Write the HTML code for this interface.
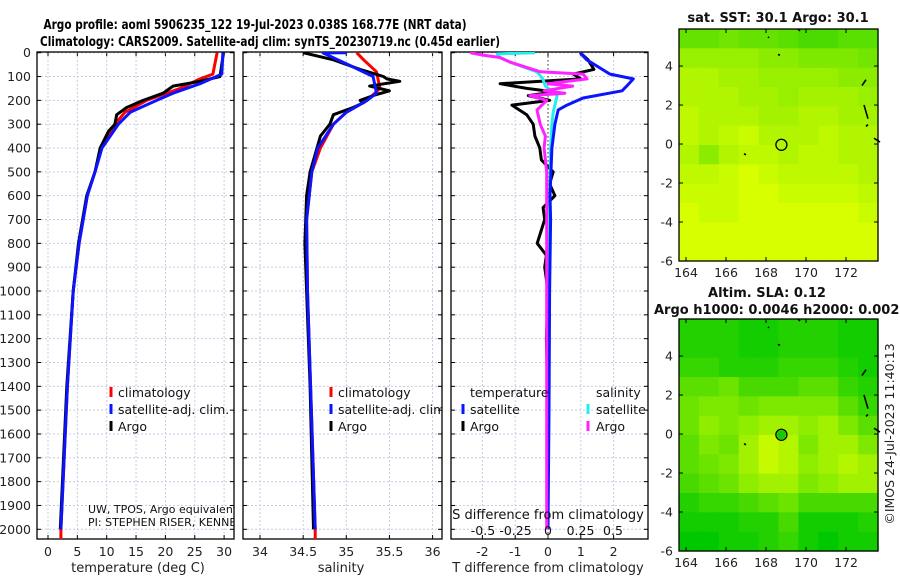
<!DOCTYPE html>
<html><head><meta charset="utf-8"><style>
html,body{margin:0;padding:0;background:#fff;}
svg{display:block;font-family:"DejaVu Sans","Liberation Sans",sans-serif;}
</style></head><body>
<svg id="chart" width="900" height="580" viewBox="0 0 900 580" xmlns="http://www.w3.org/2000/svg">
<text x="255" y="29" font-size="13" font-weight="bold" text-anchor="middle" textLength="423" lengthAdjust="spacingAndGlyphs">Argo profile: aoml 5906235_122 19-Jul-2023 0.038S 168.77E (NRT data)</text>
<text x="270" y="46" font-size="13" font-weight="bold" text-anchor="middle" textLength="460" lengthAdjust="spacingAndGlyphs">Climatology: CARS2009. Satellite-adj clim: synTS_20230719.nc (0.45d earlier)</text>
<g id="g"></g>
</svg>
<script>
// ---- depth axis ----
const depthTicks = [0,100,200,300,400,500,600,700,800,900,1000,1100,1200,1300,1400,1500,1600,1700,1800,1900,2000];
// ---- temperature panel ----
const tempTicks = [0,5,10,15,20,25,30];
const tArgoDepth = [0,100,120,140,170,200,230,260,300,330,400,500,600,800,1000,1400,2000];
const tArgo =      [29.9,29.3,25.9,21.3,19.6,16.2,13.4,11.7,11.4,10.3,8.9,8.0,6.6,5.2,4.3,3.2,2.1];
const tClimDepth = [0,90,110,150,200,250,300,400,500,600,800,1000,1400,2000,2055];
const tClim =      [28.8,28.1,25.9,22.5,16.8,13.1,11.4,9.1,8.0,6.7,5.3,4.3,3.3,2.2,2.2];
const tSatDepth =  [0,90,130,170,200,250,300,400,500,600,800,1000,1400,2000];
const tSat =       [29.8,29.6,25.9,21.3,18.5,14.0,12.0,9.2,8.0,6.7,5.3,4.3,3.3,2.2];
// ---- salinity panel ----
const salTicks = [34,34.5,35,35.5,36];
const sArgoDepth = [0,30,70,100,110,120,140,160,180,200,210,230,260,300,350,400,500,600,800,1000,1400,2000];
const sArgo =      [34.5,34.85,35.16,35.43,35.47,35.62,35.27,35.5,35.31,35.16,35.2,35.08,34.85,34.81,34.7,34.66,34.58,34.54,34.52,34.54,34.58,34.62];
const sClimDepth = [0,30,80,150,200,250,300,400,500,700,1000,2000,2055];
const sClim =      [35.12,35.2,35.35,35.39,35.24,35.0,34.85,34.7,34.6,34.54,34.55,34.64,34.64];
const sSatDepth =  [0,1,60,100,170,200,250,300,400,500,700,1000,2000];
const sSat =       [35.0,34.73,35.08,35.31,35.35,35.24,35.0,34.85,34.67,34.6,34.54,34.55,34.64];
// ---- difference panel ----
const dTTicks = [-2,-1,0,1,2];
const dSTicks = [-0.5,-0.25,0,0.25,0.5];
const dTSatDepth = [0,30,90,110,140,160,190,220,240,300,400,600,700,1000,1500,2000];
const dTSat =      [0.98,1.18,1.89,2.6,2.4,2.26,1.07,0.58,0.31,0.21,0.12,0.06,0.08,0.05,0.03,0.0];
const dTArgoDepth = [0,30,70,90,110,130,150,165,180,200,220,260,300,350,400,450,500,550,600,650,700,800,850,900,1000,1200,1500,2000];
const dTArgo =      [0.98,1.22,1.4,0.77,1.0,-1.46,-0.65,0.2,-0.6,0.05,-1.1,-0.65,-0.45,-0.4,-0.25,-0.2,0.16,0.05,0.21,-0.15,-0.1,-0.33,-0.05,-0.1,0.0,-0.05,0.0,-0.02];
const dSSatDepth = [0,5,20,40,80,110,140,180,250,300,400,700,1000,2000];
const dSSat =      [-0.1,-0.39,-0.37,-0.29,-0.085,-0.04,-0.02,0.07,0.04,0.03,0.02,0.01,0.0,0.0];
const dSArgoDepth = [0,10,20,40,80,90,110,130,140,160,170,180,200,240,300,350,400,500,700,1000,2000];
const dSArgo =      [-0.6,-0.5,-0.37,-0.29,-0.06,0.27,0.3,0.0,0.19,-0.03,0.13,-0.14,-0.01,-0.085,-0.06,-0.02,-0.03,-0.01,-0.01,-0.01,-0.01];
// ---- maps ----
const lonTicks = [164,166,168,170,172];
const latTicks = [4,2,0,-2,-4,-6];
const sstGrid = [
 [29.4,29.4,29.5,29.4,29.4,29.3,29.2,29.2,29.3,29.3],
 [29.8,29.8,29.8,29.8,29.7,29.7,29.6,29.6,29.6,29.5],
 [30.0,30.0,29.9,29.9,29.8,29.8,29.8,29.8,29.7,29.7],
 [30.0,30.0,30.0,29.9,29.9,29.8,29.9,29.9,29.9,29.8],
 [30.1,30.0,30.0,30.0,29.9,29.9,30.0,30.0,29.9,29.9],
 [30.1,30.0,30.1,30.2,30.0,30.0,30.0,30.1,30.0,30.0],
 [30.0,29.7,30.0,30.1,30.1,30.0,30.1,30.1,30.0,30.0],
 [30.1,30.1,30.2,30.3,30.2,30.1,30.1,30.1,30.1,30.0],
 [30.2,30.2,30.2,30.3,30.3,30.2,30.2,30.2,30.2,30.1],
 [30.3,30.2,30.2,30.3,30.3,30.3,30.3,30.3,30.3,30.2],
 [30.4,30.3,30.3,30.3,30.3,30.3,30.3,30.3,30.3,30.3],
 [30.4,30.3,30.3,30.3,30.3,30.3,30.3,30.3,30.3,30.3]];
const slaGrid = [
 [.05,.05,.05,.04,.04,.05,.05,.05,.04,.04],
 [.05,.05,.05,.04,.04,.05,.05,.05,.04,.04],
 [.06,.06,.05,.05,.05,.06,.06,.06,.05,.04],
 [.08,.08,.09,.07,.07,.07,.08,.08,.06,.05],
 [.09,.10,.10,.09,.10,.10,.10,.10,.08,.06],
 [.09,.11,.10,.11,.12,.12,.11,.12,.10,.08],
 [.08,.10,.09,.12,.14,.13,.10,.12,.12,.10],
 [.08,.09,.10,.12,.14,.13,.11,.12,.13,.12],
 [.07,.08,.09,.11,.12,.12,.10,.11,.12,.12],
 [.05,.06,.06,.07,.08,.09,.07,.07,.07,.07],
 [.04,.04,.04,.05,.05,.07,.04,.04,.04,.05],
 [.03,.03,.04,.04,.05,.06,.04,.03,.04,.04]];
const argoLon = 168.77, argoLat = -0.038;

const NS = "http://www.w3.org/2000/svg";
const G = document.getElementById('g');
function mk(tag, attrs, parent, txt){
  const e = document.createElementNS(NS, tag);
  for (const k in attrs) e.setAttribute(k, attrs[k]);
  if (txt !== undefined) e.textContent = txt;
  (parent||G).appendChild(e); return e;
}
const Y0 = 52.7, DS = 0.2383, PT = 52, PB = 539;
const yD = d => Y0 + DS*d;
function panel(name, L, R, xs, ticks, tickFmt, showY){
  const g = mk('g', {});
  
  
  ticks.forEach(t=>{ const x=xs(t);
    const l = mk('line',{x1:x,x2:x,y1:PT,y2:PB,stroke:'#c5cde6','stroke-dasharray':'2,2','stroke-width':1},g);
    
    
    mk('line',{x1:x,x2:x,y1:PT,y2:PT+4,stroke:'#000'},g); mk('line',{x1:x,x2:x,y1:PB,y2:PB-4,stroke:'#000'},g);
  });
  depthTicks.forEach(d=>{ const y=yD(d);
    const l = mk('line',{x1:L,x2:R,y1:y,y2:y,stroke:'#c5cde6','stroke-dasharray':'2,2','stroke-width':1},g);
    
    
    mk('line',{x1:L,x2:L+4,y1:y,y2:y,stroke:'#000'},g); mk('line',{x1:R,x2:R-4,y1:y,y2:y,stroke:'#000'},g);
    if (showY){ const t = mk('text',{x:31,y:y+4.5,'font-size':12.5,'text-anchor':'end',fill:'#222'},g,String(d));
      
       }
  });
  if (tickFmt) ticks.forEach(t=>{ const tx = mk('text',{x:xs(t),y:556,'font-size':12.5,'text-anchor':'middle',fill:'#222'},g,tickFmt(t));
    
     });
  const fr = mk('rect',{x:L,y:PT,width:R-L,height:PB-PT,fill:'none',stroke:'#000','stroke-width':1.3},g);
  
  
  return g;
}
function line(g, xs, depths, vals, color, w, name){
  const pts = vals.map((v,i)=> xs(v).toFixed(1)+','+yD(depths[i]).toFixed(1)).join(' ');
  const p = mk('polyline',{points:pts,fill:'none',stroke:color,'stroke-width':w,'stroke-linejoin':'round'},g);
  
  
}
function clip(id,L,R){ const c = mk('clipPath',{id:id}); mk('rect',{x:L,y:PT,width:R-L,height:PB-PT},c); }
function txt(g,x,y,s,name,extra){ const a = Object.assign({x:x,y:y,'font-size':12.5,fill:'#111'}, extra||{});
  const t = mk('text',a,g,s);
  
  
  return t; }
function mark(g,x,y,c,name){ const r = mk('rect',{x:x-1.5,y:y-10,width:3,height:10,fill:c},g);
  
   }

// Temperature panel
const xT = t => 48 + 5.87*t;
clip('c1',37,234);
const p1 = panel('temperature-panel',37,234,xT,tempTicks,t=>String(t),true);
const l1 = mk('g',{'clip-path':'url(#c1)'},p1);
line(l1,xT,tClimDepth,tClim,'#ff0000',3,'temp-climatology-line');
line(l1,xT,tArgoDepth,tArgo,'#000000',3,'temp-argo-line');
line(l1,xT,tSatDepth,tSat,'#0a14ff',3,'temp-satellite-adj-line');
mark(p1,111,397,'#ff0000','legend-marker-climatology'); txt(p1,118,397,'climatology','legend-climatology');
mark(p1,111,414,'#0a14ff','legend-marker-satellite'); txt(p1,118,414,'satellite-adj. clim.','legend-satellite-adj');
mark(p1,111,431,'#000','legend-marker-argo'); txt(p1,118,431,'Argo','legend-argo');
const ci = mk('g',{'clip-path':'url(#c1)'},p1);
txt(ci,88,513,'UW, TPOS, Argo equivalent','institution-note',{'font-size':11});
txt(ci,88,526,'PI: STEPHEN RISER, KENNETH','pi-note',{'font-size':11});
txt(p1,138,572,'temperature (deg C)','temperature-axis-title',{'text-anchor':'middle','font-size':13,fill:'#222'});

// Salinity panel
const xS = s => 260 + 86.3*(s-34);
clip('c2',243,442);
const p2 = panel('salinity-panel',243,442,xS,salTicks,s=>String(s),false);
const l2 = mk('g',{'clip-path':'url(#c2)'},p2);
line(l2,xS,sClimDepth,sClim,'#ff0000',3,'sal-climatology-line');
line(l2,xS,sArgoDepth,sArgo,'#000000',3,'sal-argo-line');
line(l2,xS,sSatDepth,sSat,'#0a14ff',3,'sal-satellite-adj-line');
const lg2 = mk('g',{'clip-path':'url(#c2)'},p2);
mark(lg2,331,397,'#ff0000','legend-marker-climatology'); txt(lg2,338,397,'climatology','legend-climatology');
mark(lg2,331,414,'#0a14ff','legend-marker-satellite'); txt(lg2,338,414,'satellite-adj. clim.','legend-satellite-adj');
mark(lg2,331,431,'#000','legend-marker-argo'); txt(lg2,338,431,'Argo','legend-argo');
txt(p2,341,572,'salinity','salinity-axis-title',{'text-anchor':'middle','font-size':13,fill:'#222'});

// Difference panel
const xdT = d => 548 + 32.8*d;
const xdS = d => 548 + 130*d;
clip('c3',451,648);
const p3 = panel('difference-panel',451,648,xdT,dTTicks,d=>String(d),false);
const dz = mk('line',{x1:548,x2:548,y1:PT,y2:PB,stroke:'#333','stroke-dasharray':'1.5,2.5','stroke-width':1},p3);


const l3 = mk('g',{'clip-path':'url(#c3)'},p3);
line(l3,xdT,dTArgoDepth,dTArgo,'#000000',3,'tdiff-argo-line');
line(l3,xdS,dSSatDepth,dSSat,'#22eeee',3,'sdiff-satellite-line');
line(l3,xdT,dTSatDepth,dTSat,'#0a14ff',3,'tdiff-satellite-line');
line(l3,xdS,dSArgoDepth,dSArgo,'#ff22ff',3,'sdiff-argo-line');
txt(p3,470,397,'temperature','legend-temperature-heading');
txt(p3,596,397,'salinity','legend-salinity-heading');
mark(p3,463,414,'#0a14ff','legend-marker-t-satellite'); txt(p3,470,414,'satellite','legend-t-satellite');
mark(p3,463,431,'#000','legend-marker-t-argo'); txt(p3,470,431,'Argo','legend-t-argo');
mark(p3,588,414,'#22eeee','legend-marker-s-satellite'); txt(p3,596,414,'satellite','legend-s-satellite');
mark(p3,588,431,'#ff22ff','legend-marker-s-argo'); txt(p3,596,431,'Argo','legend-s-argo');
txt(p3,548,519,'S difference from climatology','s-diff-axis-title',{'text-anchor':'middle','font-size':13});
dSTicks.forEach(d=>{ txt(p3,xdS(d),535,String(d),'s-diff-tick-label',{'text-anchor':'middle'}); });
txt(p3,548,572,'T difference from climatology','t-diff-axis-title',{'text-anchor':'middle','font-size':13,fill:'#222'});

// Maps
const ML = 679, MR = 878, lon0 = 163.65, lon1 = 173.6;
function cmap(t){ t=Math.max(0,Math.min(1,t)); return 'rgb('+Math.round(215*t)+','+Math.round(200+55*t)+',0)'; }
function drawMap(name, top, bot, grid, tFn){
  const lat0 = 5.9, lat1 = -6;
  const xL = lon => ML + (lon-lon0)/(lon1-lon0)*(MR-ML);
  const yL = lat => top + (lat0-lat)/(lat0-lat1)*(bot-top);
  const g = mk('g',{});
  
  
  const nr = grid.length, nc = grid[0].length;
  const cw = (MR-ML)/nc, chh = (bot-top)/nr;
  grid.forEach((row,i)=>row.forEach((v,j)=>{
    const r = mk('rect',{x:(ML+j*cw).toFixed(2),y:(top+i*chh).toFixed(2),width:(cw+0.6).toFixed(2),height:(chh+0.6).toFixed(2),fill:cmap(tFn(v))},g);
    
    
  }));
  [[173,3.3,172.8,3.0],[172.9,2.0,173.1,1.3],[173.1,1.0,173.0,0.9],[173.4,0.3,173.7,0.1],[168.1,5.5,168.15,5.45],[168.6,4.6,168.7,4.55],[166.9,-0.5,167,-0.55],[169.6,5.9,169.7,5.8]].forEach(c=>{
    const l = mk('line',{x1:xL(c[0]),y1:yL(c[1]),x2:xL(c[2]),y2:yL(c[3]),stroke:'#000','stroke-width':1.6},g);
    
    
  });
  const c = mk('circle',{cx:xL(argoLon),cy:yL(argoLat),r:5.5,fill:'none',stroke:'#000','stroke-width':1.3},g);
  
  
  const fr = mk('rect',{x:ML,y:top,width:MR-ML,height:bot-top,fill:'none',stroke:'#000','stroke-width':1.3},g);
  
  
  lonTicks.forEach(l=>{ const x=xL(l);
    mk('line',{x1:x,x2:x,y1:top,y2:top+4,stroke:'#000'},g); mk('line',{x1:x,x2:x,y1:bot,y2:bot-4,stroke:'#000'},g);
    txt(g,x,bot+16,String(l),'lon-tick-label',{'text-anchor':'middle',fill:'#222'}); });
  latTicks.forEach(l=>{ const y=yL(l);
    mk('line',{x1:ML,x2:ML+4,y1:y,y2:y,stroke:'#000'},g); mk('line',{x1:MR,x2:MR-4,y1:y,y2:y,stroke:'#000'},g);
    txt(g,673,y+4.5,String(l),'lat-tick-label',{'text-anchor':'end',fill:'#222'}); });
  return {g,xL,yL};
}
const m1 = drawMap('sst-map',29,261,sstGrid,v=>(v-28.6)/1.7);
txt(m1.g,778,22,'sat. SST: 30.1 Argo: 30.1','sst-map-title',{'text-anchor':'middle','font-size':13,'font-weight':'bold'});
const m2 = drawMap('sla-map',319,551,slaGrid,v=>(v-0.03)/0.12);
const ic = mk('circle',{cx:m2.xL(argoLon),cy:m2.yL(argoLat),r:4.5,fill:'#11cc00'},m2.g);


txt(m2.g,767,297,'Altim. SLA: 0.12','sla-map-title',{'text-anchor':'middle','font-size':13,'font-weight':'bold'});
txt(m2.g,654,314,'Argo h1000: 0.0046 h2000: 0.002','sla-map-subtitle',{'font-size':13,'font-weight':'bold'});
txt(G,0,0,'©IMOS 24-Jul-2023 11:40:13','imos-timestamp',{'font-size':12.5,'text-anchor':'middle',fill:'#222',transform:'translate(894,434) rotate(-90)'});
</script>
</body></html>
